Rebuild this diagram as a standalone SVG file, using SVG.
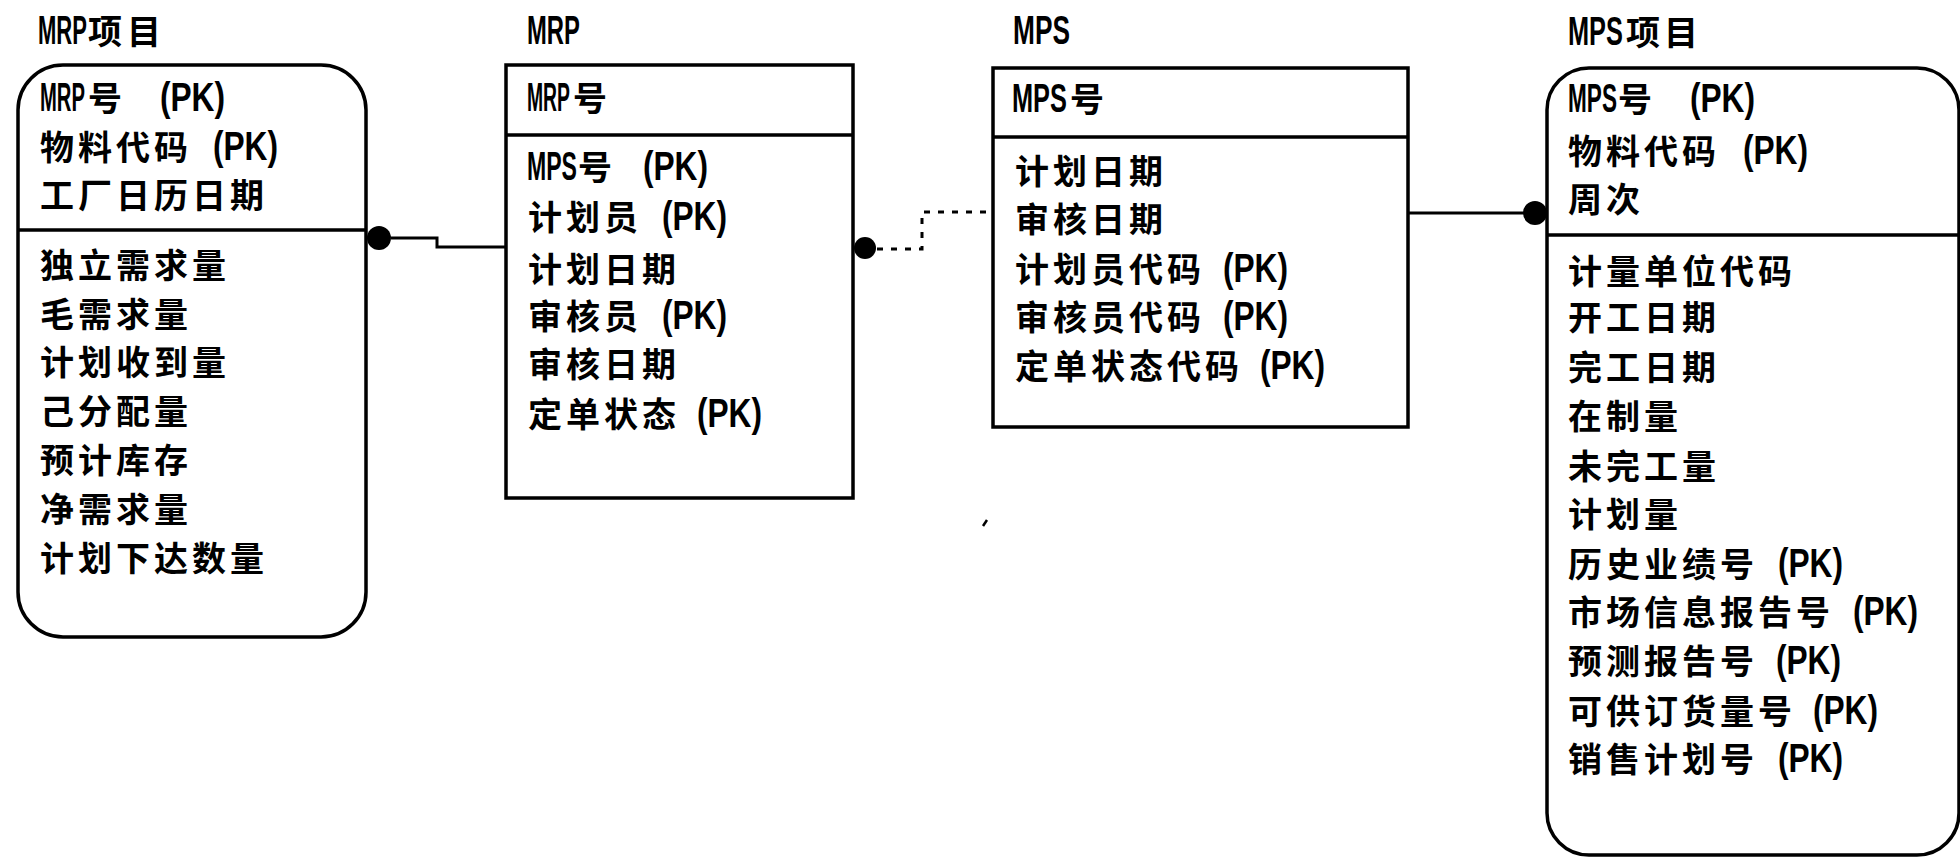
<svg xmlns="http://www.w3.org/2000/svg" width="1960" height="861" viewBox="0 0 1960 861">
<style>
.box{fill:none;stroke:#000;stroke-width:3.5}
.div{stroke:#000;stroke-width:3.5}
.t{font-family:"Noto Sans CJK SC","Noto Sans CJK TC",sans-serif;font-size:34px;font-weight:bold;letter-spacing:4px;fill:#000}
.l{font-family:"Liberation Sans","DejaVu Sans",sans-serif;font-size:40px;font-weight:bold;letter-spacing:0;fill:#000}
.con{fill:none;stroke:#000;stroke-width:3}
.dash{stroke-dasharray:6 8}
.dot{fill:#000}
</style>
<rect width="1960" height="861" fill="#fff"/>

<g id="connectors">
  <circle class="dot" cx="379" cy="238" r="12"/>
  <path class="con" d="M391 238 H437 V247 H506"/>
  <circle class="dot" cx="865" cy="248" r="11"/>
  <path class="con dash" d="M877 249 H922 V212 H993"/>
  <path class="con" d="M1408 213 H1535"/>
  <circle class="dot" cx="1535" cy="213" r="12"/>
</g>

<g id="mrp-item">
  <text class="l" transform="translate(38 44) scale(0.551 1)">MRP</text>
  <text class="t" y="44"><tspan x="88 127">项目</tspan></text>
  <rect class="box" x="18" y="65" width="348" height="572" rx="45" ry="45"/>
  <line class="div" x1="18" y1="230" x2="366" y2="230"/>
  <text class="l" transform="translate(40 111) scale(0.506 1)">MRP</text>
  <text class="t" y="111"><tspan x="88">号</tspan><tspan class="l" x="160" textLength="65" lengthAdjust="spacingAndGlyphs">(PK)</tspan></text>
  <text class="t" y="160"><tspan x="40">物料代码</tspan><tspan class="l" x="213" textLength="65" lengthAdjust="spacingAndGlyphs">(PK)</tspan></text>
  <text class="t" x="40" y="208">工厂日历日期</text>
  <text class="t" x="40" y="278">独立需求量</text>
  <text class="t" x="40" y="327">毛需求量</text>
  <text class="t" x="40" y="375">计划收到量</text>
  <text class="t" x="40" y="424">己分配量</text>
  <text class="t" x="40" y="473">预计库存</text>
  <text class="t" x="40" y="522">净需求量</text>
  <text class="t" x="40" y="571">计划下达数量</text>
</g>

<g id="mrp">
  <text class="l" transform="translate(527 44) scale(0.596 1)">MRP</text>
  <rect class="box" x="506" y="65" width="347" height="433"/>
  <line class="div" x1="506" y1="135" x2="853" y2="135"/>
  <text class="l" transform="translate(527 111) scale(0.484 1)">MRP</text>
  <text class="t" x="573" y="111">号</text>
  <text class="l" transform="translate(527 180) scale(0.577 1)">MPS</text>
  <text class="t" y="180"><tspan x="578">号</tspan><tspan class="l" x="643" textLength="65" lengthAdjust="spacingAndGlyphs">(PK)</tspan></text>
  <text class="t" y="230"><tspan x="528">计划员</tspan><tspan class="l" x="662" textLength="65" lengthAdjust="spacingAndGlyphs">(PK)</tspan></text>
  <text class="t" x="528" y="282">计划日期</text>
  <text class="t" y="329"><tspan x="528">审核员</tspan><tspan class="l" x="662" textLength="65" lengthAdjust="spacingAndGlyphs">(PK)</tspan></text>
  <text class="t" x="528" y="377">审核日期</text>
  <text class="t" y="427"><tspan x="528">定单状态</tspan><tspan class="l" x="697" textLength="65" lengthAdjust="spacingAndGlyphs">(PK)</tspan></text>
</g>

<g id="mps">
  <text class="l" transform="translate(1013 44) scale(0.657 1)">MPS</text>
  <rect class="box" x="993" y="68" width="415" height="359"/>
  <line class="div" x1="993" y1="137" x2="1408" y2="137"/>
  <text class="l" transform="translate(1012 112) scale(0.634 1)">MPS</text>
  <text class="t" x="1070" y="112">号</text>
  <text class="t" x="1015" y="184">计划日期</text>
  <text class="t" x="1015" y="232">审核日期</text>
  <text class="t" y="282"><tspan x="1015">计划员代码</tspan><tspan class="l" x="1223" textLength="65" lengthAdjust="spacingAndGlyphs">(PK)</tspan></text>
  <text class="t" y="330"><tspan x="1015">审核员代码</tspan><tspan class="l" x="1223" textLength="65" lengthAdjust="spacingAndGlyphs">(PK)</tspan></text>
  <text class="t" y="379"><tspan x="1015">定单状态代码</tspan><tspan class="l" x="1260" textLength="65" lengthAdjust="spacingAndGlyphs">(PK)</tspan></text>
</g>
<path d="M983 526 L987 520" stroke="#000" stroke-width="2.5"/>

<g id="mps-item">
  <text class="l" transform="translate(1568 45) scale(0.634 1)">MPS</text>
  <text class="t" y="45"><tspan x="1626 1664">项目</tspan></text>
  <rect class="box" x="1547" y="68" width="412" height="787" rx="42" ry="42"/>
  <line class="div" x1="1547" y1="235" x2="1959" y2="235"/>
  <text class="l" transform="translate(1568 112) scale(0.565 1)">MPS</text>
  <text class="t" y="112"><tspan x="1618">号</tspan><tspan class="l" x="1690" textLength="65" lengthAdjust="spacingAndGlyphs">(PK)</tspan></text>
  <text class="t" y="164"><tspan x="1568">物料代码</tspan><tspan class="l" x="1743" textLength="65" lengthAdjust="spacingAndGlyphs">(PK)</tspan></text>
  <text class="t" x="1568" y="212">周次</text>
  <text class="t" x="1568" y="284">计量单位代码</text>
  <text class="t" x="1568" y="330">开工日期</text>
  <text class="t" x="1568" y="380">完工日期</text>
  <text class="t" x="1568" y="429">在制量</text>
  <text class="t" x="1568" y="479">未完工量</text>
  <text class="t" x="1568" y="527">计划量</text>
  <text class="t" y="577"><tspan x="1568">历史业绩号</tspan><tspan class="l" x="1778" textLength="65" lengthAdjust="spacingAndGlyphs">(PK)</tspan></text>
  <text class="t" y="625"><tspan x="1568">市场信息报告号</tspan><tspan class="l" x="1853" textLength="65" lengthAdjust="spacingAndGlyphs">(PK)</tspan></text>
  <text class="t" y="674"><tspan x="1568">预测报告号</tspan><tspan class="l" x="1776" textLength="65" lengthAdjust="spacingAndGlyphs">(PK)</tspan></text>
  <text class="t" y="724"><tspan x="1568">可供订货量号</tspan><tspan class="l" x="1813" textLength="65" lengthAdjust="spacingAndGlyphs">(PK)</tspan></text>
  <text class="t" y="772"><tspan x="1568">销售计划号</tspan><tspan class="l" x="1778" textLength="65" lengthAdjust="spacingAndGlyphs">(PK)</tspan></text>
</g>
</svg>
